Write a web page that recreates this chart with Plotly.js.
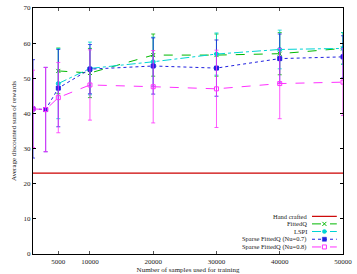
<!DOCTYPE html>
<html><head><meta charset="utf-8">
<script src="https://cdn.plot.ly/plotly-3.0.1.min.js"></script>
<style>html,body{margin:0;padding:0;background:#fff}#c{width:357px;height:274px}</style>
</head><body><div id="c"></div>
<script>
// ---- data ----
const xFull = [1000, 3000, 5000, 10000, 20000, 30000, 40000, 50000];
const xShort = [5000, 10000, 20000, 30000, 40000, 50000];
const handCrafted = 23.0;
const fittedQ = [52.1, 51.5, 56.6, 56.6, 57.0, 58.5];
const fittedQErr = [6.5, 7.0, 6.0, 6.0, 6.0, 4.5];
const lspi = [48.5, 52.8, 54.7, 56.9, 58.2, 58.5];
const lspiErr = [10.0, 7.5, 7.0, 6.0, 5.5, 4.5];
const sparse07 = [41.3, 41.1, 47.2, 52.6, 53.5, 52.9, 55.6, 56.1];
const sparse07Err = [14.0, 12.0, 11.0, 7.0, 8.0, 8.0, 7.0, 6.0];
const sparse08 = [41.3, 41.1, 44.5, 48.1, 47.6, 47.0, 48.5, 48.9];
const sparse08Err = [11.0, 12.0, 10.0, 10.0, 10.3, 11.0, 10.0, 9.5];
const legendNames = ["Hand crafted", "FittedQ", "LSPI", "Sparse FittedQ (Nu=0.7)", "Sparse FittedQ (Nu=0.8)"];
const xTicks = [5000, 10000, 20000, 30000, 40000, 50000];
const yTicks = [0, 10, 20, 30, 40, 50, 60, 70];

// ---- styles ----
const colors = ["#cc0000", "#00b800", "#00d4d4", "#2020e0", "#ff30ff"];
const dashes = ["solid", "dash", "dashdot", "dot", "dash"];
const symbols = [null, "x-thin-open", "circle", "square", "square-open"];
const FONT = "Liberation Serif, Times New Roman, serif";

function errTrace(x, y, e, i) {
  return {
    x: x, y: y, type: "scatter", mode: "lines+markers", showlegend: false,
    line: {color: colors[i], width: 1, dash: dashes[i]},
    marker: {symbol: symbols[i], size: 4, color: colors[i], line: {color: colors[i], width: 1}},
    error_y: {type: "data", array: e, visible: true, color: colors[i], thickness: 0.8, width: 2}
  };
}

const traces = [
  {x: [xFull[0], xFull[xFull.length - 1]], y: [handCrafted, handCrafted], type: "scatter", mode: "lines",
   showlegend: false, line: {color: colors[0], width: 1.2}},
  errTrace(xShort, fittedQ, fittedQErr, 1),
  errTrace(xShort, lspi, lspiErr, 2),
  errTrace(xFull, sparse07, sparse07Err, 3),
  errTrace(xFull, sparse08, sparse08Err, 4)
];

// ---- manual legend (text right-aligned, sample on the right) ----
const legY = [0.153, 0.1224, 0.0914, 0.060, 0.0286];
const annotations = [];
const shapes = [];
legendNames.forEach((name, i) => {
  annotations.push({xref: "paper", yref: "paper", x: 0.887, y: legY[i], xanchor: "right", yanchor: "middle",
    text: name, showarrow: false, borderpad: 0, font: {family: FONT, size: 6.5, color: "#222"}});
  shapes.push({type: "line", xref: "paper", yref: "paper", x0: 0.9, x1: 0.98, y0: legY[i], y1: legY[i],
    line: {color: colors[i], width: i === 0 ? 1.2 : 1, dash: dashes[i]}});
  const cx = 0.94, hx = 0.0065, hy = 0.0082;
  if (i === 1) {
    shapes.push({type: "line", xref: "paper", yref: "paper", x0: cx - hx, x1: cx + hx, y0: legY[i] - hy, y1: legY[i] + hy, line: {color: colors[i], width: 1}});
    shapes.push({type: "line", xref: "paper", yref: "paper", x0: cx - hx, x1: cx + hx, y0: legY[i] + hy, y1: legY[i] - hy, line: {color: colors[i], width: 1}});
  } else if (i === 2) {
    shapes.push({type: "circle", xref: "paper", yref: "paper", x0: cx - hx, x1: cx + hx, y0: legY[i] - hy, y1: legY[i] + hy, fillcolor: colors[i], line: {color: colors[i], width: 0.5}});
  } else if (i === 3) {
    shapes.push({type: "rect", xref: "paper", yref: "paper", x0: cx - hx, x1: cx + hx, y0: legY[i] - hy, y1: legY[i] + hy, fillcolor: colors[i], line: {color: colors[i], width: 0.5}});
  } else if (i === 4) {
    shapes.push({type: "rect", xref: "paper", yref: "paper", x0: cx - hx, x1: cx + hx, y0: legY[i] - hy, y1: legY[i] + hy, fillcolor: "rgba(0,0,0,0)", line: {color: colors[i], width: 1}});
  }
});

const layout = {
  width: 357, height: 274,
  margin: {l: 33, r: 14, t: 8, b: 20},
  paper_bgcolor: "#fff", plot_bgcolor: "#fff",
  showlegend: false,
  font: {family: FONT, size: 7, color: "#222"},
  xaxis: {
    range: [1000, 50000], tickvals: xTicks, ticktext: xTicks.map(String),
    ticks: "inside", ticklen: 3, tickcolor: "#555", showline: true, linecolor: "#000", linewidth: 1.2,
    mirror: "ticks", showgrid: false, zeroline: false,
    tickfont: {family: FONT, size: 7, color: "#222"},
    title: {text: "Number of samples used for training", font: {family: FONT, size: 7, color: "#222"}, standoff: 9}
  },
  yaxis: {
    range: [0, 70], tickvals: yTicks, ticktext: yTicks.map(String),
    ticks: "inside", ticklen: 3, tickcolor: "#000", showline: true, linecolor: "#000", linewidth: 1.2,
    mirror: "ticks", showgrid: false, zeroline: false,
    tickfont: {family: FONT, size: 7, color: "#222"},
    title: {text: "Average discounted sum of rewards", font: {family: FONT, size: 7, color: "#222"}, standoff: 6}
  },
  annotations: annotations,
  shapes: shapes
};

Plotly.newPlot("c", traces, layout, {staticPlot: true, displayModeBar: false});
</script>
</body></html>
